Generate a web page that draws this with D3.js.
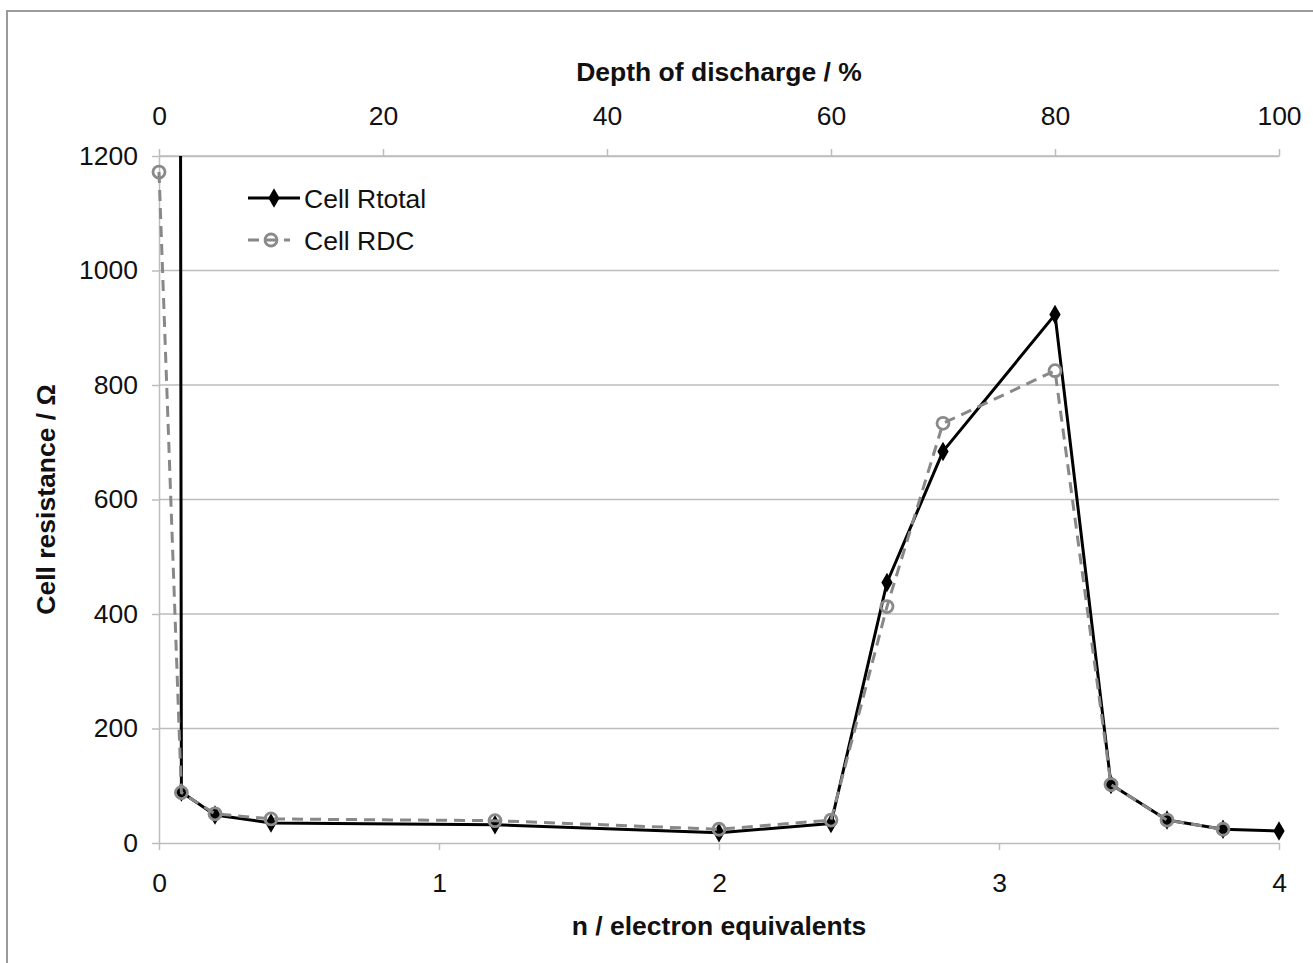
<!DOCTYPE html>
<html><head><meta charset="utf-8">
<script src="https://cdn.jsdelivr.net/npm/d3@7"></script>
<style>body{margin:0;background:#fff}svg{display:block}text{font-family:"Liberation Sans",Arial,sans-serif}</style>
</head><body>
<svg id="c" width="1313" height="963"></svg>
<script>
const nTotal = [0, 0.08, 0.2, 0.4, 1.2, 2.0, 2.4, 2.6, 2.8, 3.2, 3.4, 3.6, 3.8, 4.0];
const rTotal = [30000, 89, 49, 35, 32, 18, 34, 455, 684, 923, 102, 40, 24, 21];
const nDC = [0, 0.08, 0.2, 0.4, 1.2, 2.0, 2.4, 2.6, 2.8, 3.2, 3.4, 3.6, 3.8];
const rDC = [1172, 88, 51, 42, 39, 24, 40, 413, 733, 825, 102, 40, 24];
const yTicks = [0, 200, 400, 600, 800, 1000, 1200];
const xTicks = [0, 1, 2, 3, 4];
const dodTicks = [0, 20, 40, 60, 80, 100];

const FS = "26.5px";
const svg = d3.select("#c");
const L = 159, R = 1279, T = 156, B = 843;
const x = d3.scaleLinear().domain([0, 4]).range([L, R]);
const xTop = d3.scaleLinear().domain([0, 100]).range([L, R]);
const y = d3.scaleLinear().domain([0, 1200]).range([B, T]);

// outer frame
svg.append("rect").attr("x", 7).attr("y", 11).attr("width", 1320).attr("height", 970)
  .attr("fill", "none").attr("stroke", "#9a9a9a").attr("stroke-width", 2);

// gridlines
svg.append("g").selectAll("line").data(yTicks.filter(d => d > 0)).join("line")
  .attr("x1", L).attr("x2", R).attr("y1", d => y(d)).attr("y2", d => y(d))
  .attr("stroke", "#bdbdbd").attr("stroke-width", 1.5);

const axisStyle = g => {
  g.select(".domain").attr("stroke", "#bdbdbd").attr("stroke-width", 1.5);
  g.selectAll(".tick line").attr("stroke", "#bdbdbd").attr("stroke-width", 1.5);
  g.selectAll(".tick text").attr("fill", "#111").style("font-size", FS)
    .style("font-family", '"Liberation Sans", Arial, sans-serif');
};

svg.append("g").attr("transform", `translate(0,${B})`)
  .call(d3.axisBottom(x).tickValues(xTicks).tickSize(7).tickPadding(23).tickSizeOuter(0).tickFormat(d3.format("d")))
  .call(axisStyle);
svg.append("g").attr("transform", `translate(0,${T})`)
  .call(d3.axisTop(xTop).tickValues(dodTicks).tickSize(7).tickPadding(24).tickSizeOuter(0).tickFormat(d3.format("d")))
  .call(axisStyle);
svg.append("g").attr("transform", `translate(${L},0)`)
  .call(d3.axisLeft(y).tickValues(yTicks).tickSize(7).tickPadding(14).tickSizeOuter(0).tickFormat(d3.format("d")))
  .call(axisStyle);

// titles
svg.append("text").attr("x", (L + R) / 2).attr("y", 81).attr("text-anchor", "middle")
  .style("font-size", FS).style("font-weight", "bold").attr("fill", "#111").text("Depth of discharge / %");
svg.append("text").attr("x", (L + R) / 2).attr("y", 935).attr("text-anchor", "middle")
  .style("font-size", FS).style("font-weight", "bold").attr("fill", "#111").text("n / electron equivalents");
svg.append("text").attr("transform", `translate(55,${(T + B) / 2}) rotate(-90)`).attr("text-anchor", "middle")
  .style("font-size", FS).style("font-weight", "bold").attr("fill", "#111").text("Cell resistance / Ω");

// clip
svg.append("clipPath").attr("id", "clip").append("rect").attr("x", L - 10).attr("y", T).attr("width", R - L + 20).attr("height", B - T + 10);

const line = d3.line().x(d => x(d[0])).y(d => y(d[1]));
const totData = nTotal.map((n, i) => [n, rTotal[i]]);
const dcData = nDC.map((n, i) => [n, rDC[i]]);
const diamond = d3.symbol().type(d3.symbolDiamond).size(110);

const plot = svg.append("g").attr("clip-path", "url(#clip)");
plot.append("path").datum(totData).attr("d", line).attr("fill", "none")
  .attr("stroke", "#000").attr("stroke-width", 3).attr("stroke-linejoin", "round");
plot.selectAll(".dia").data(totData.filter(d => d[1] <= 1200)).join("path")
  .attr("transform", d => `translate(${x(d[0])},${y(d[1])})`).attr("d", diamond).attr("fill", "#000");
plot.append("path").datum(dcData).attr("d", line).attr("fill", "none")
  .attr("stroke", "#888").attr("stroke-width", 3).attr("stroke-dasharray", "11,7");
plot.selectAll(".cir").data(dcData).join("circle")
  .attr("cx", d => x(d[0])).attr("cy", d => y(d[1])).attr("r", 6)
  .attr("fill", "none").attr("stroke", "#8a8a8a").attr("stroke-width", 2.8);

// legend
const lg = svg.append("g");
lg.append("line").attr("x1", 248).attr("x2", 300).attr("y1", 198).attr("y2", 198).attr("stroke", "#000").attr("stroke-width", 3);
lg.append("path").attr("transform", "translate(274,198)").attr("d", diamond).attr("fill", "#000");
lg.append("text").attr("x", 304).attr("y", 207.5).style("font-size", FS).attr("fill", "#111").text("Cell Rtotal");
lg.append("line").attr("x1", 248).attr("x2", 290).attr("y1", 240).attr("y2", 240).attr("stroke", "#888").attr("stroke-width", 3).attr("stroke-dasharray", "11,7");
lg.append("circle").attr("cx", 271).attr("cy", 240).attr("r", 6).attr("fill", "none").attr("stroke", "#8a8a8a").attr("stroke-width", 2.8);
lg.append("text").attr("x", 304).attr("y", 249.5).style("font-size", FS).attr("fill", "#111").text("Cell RDC");
</script>
</body></html>
